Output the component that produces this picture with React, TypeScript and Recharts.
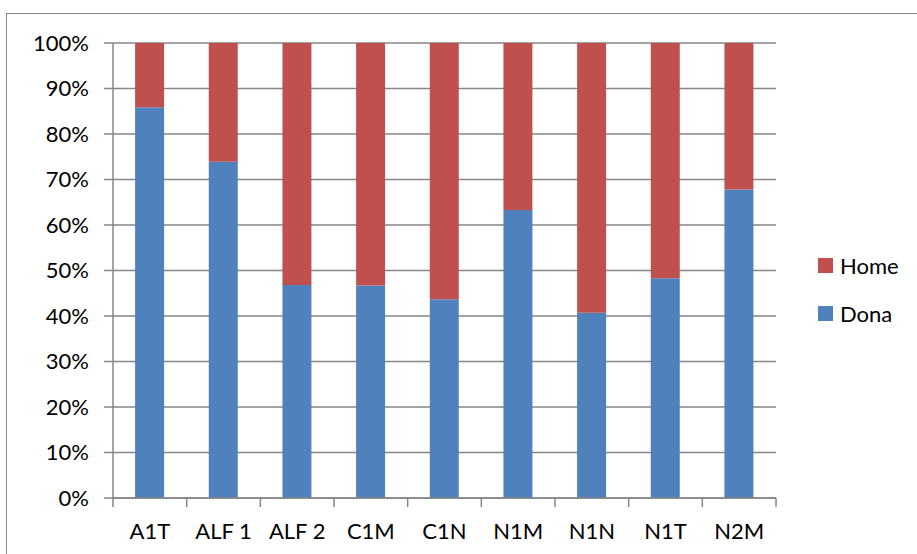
import React from 'react';
import { BarChart, Bar, XAxis, YAxis, CartesianGrid } from 'recharts';

const categories = ['A1T', 'ALF 1', 'ALF 2', 'C1M', 'C1N', 'N1M', 'N1N', 'N1T', 'N2M'];
const dona = [0.859, 0.739, 0.468, 0.467, 0.437, 0.633, 0.407, 0.483, 0.678];
const home = dona.map(v => 1 - v);
const yTicks = [0, 0.1, 0.2, 0.3, 0.4, 0.5, 0.6, 0.7, 0.8, 0.9, 1];

const data = categories.map((name, i) => ({ name, Dona: dona[i], Home: home[i] }));

const W = 917;
const H = 554;
const margin = { top: 43, right: 141, bottom: 0, left: 0 };
const yAxisWidth = 113;
const plotWidth = W - margin.left - margin.right - yAxisWidth;
const band = plotWidth / categories.length;
const font = 'Lato, "Noto Sans", sans-serif';
const fontSize = 22;
const grey = '#868686';

const XTick = ({ x, y, payload, index }: any) => {
  const left = x - band / 2;
  return (
    <g>
      <line x1={left} y1={y - 8} x2={left} y2={y + 1} stroke={grey} strokeWidth={1.5} />
      {index === categories.length - 1 && (
        <line x1={x + band / 2} y1={y - 8} x2={x + band / 2} y2={y + 1} stroke={grey} strokeWidth={1.5} />
      )}
      <text x={x} y={y + 33} textAnchor="middle" fontSize={fontSize} fill="#000" fontFamily={font}>
        {payload.value}
      </text>
    </g>
  );
};

const legendItems = [
  { name: 'Home', color: '#C0504D' },
  { name: 'Dona', color: '#4F81BD' },
];

const LegendBox = () => (
  <div style={{ position: 'absolute', left: 818, top: 241, fontFamily: font, fontSize, color: '#000' }}>
    {legendItems.map(it => (
      <div key={it.name} style={{ display: 'flex', alignItems: 'center', height: 48 }}>
        <span style={{ width: 15, height: 15, background: it.color, display: 'inline-block', marginRight: 7 }} />
        <span>{it.name}</span>
      </div>
    ))}
  </div>
);

export default function App() {
  return (
    <div style={{ position: 'absolute', left: 0, top: 0, width: W, height: H, background: '#fff', overflow: 'hidden' }}>
      <div
        style={{
          position: 'absolute',
          left: 6,
          top: 13,
          width: W,
          height: H,
          borderLeft: `1.5px solid ${grey}`,
          borderTop: `1.5px solid ${grey}`,
        }}
      />
      <BarChart width={W} height={H} data={data} margin={margin} barCategoryGap="30%">
        <CartesianGrid vertical={false} stroke={grey} strokeWidth={1.3} />
        <XAxis
          dataKey="name"
          height={56}
          tickLine={false}
          axisLine={{ stroke: grey, strokeWidth: 1.5 }}
          tick={<XTick />}
          interval={0}
        />
        <YAxis
          width={yAxisWidth}
          domain={[0, 1]}
          ticks={yTicks}
          tickFormatter={(v: number) => `${Math.round(v * 100)}%`}
          tickSize={9}
          tickMargin={15}
          tickLine={{ stroke: grey, strokeWidth: 1.5 }}
          axisLine={{ stroke: grey, strokeWidth: 1.5 }}
          tick={{ fontSize, fill: '#000', fontFamily: font }}
        />
        <Bar dataKey="Dona" stackId="a" fill="#4F81BD" isAnimationActive={false} />
        <Bar dataKey="Home" stackId="a" fill="#C0504D" isAnimationActive={false} />
      </BarChart>
      <LegendBox />
    </div>
  );
}
